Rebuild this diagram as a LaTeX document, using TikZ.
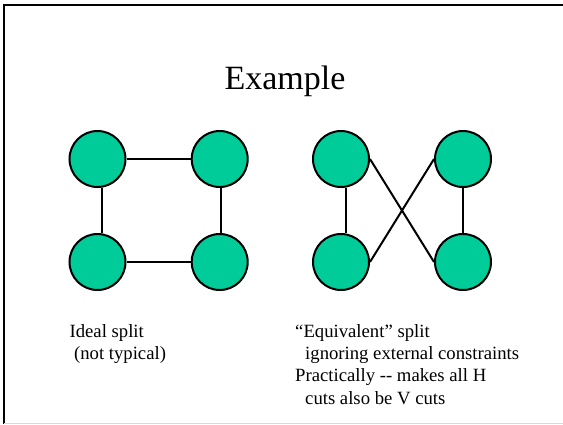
\documentclass[tikz,border=0pt]{standalone}
\usepackage{fontspec}
\setmainfont{Liberation Serif}
\definecolor{nodegreen}{RGB}{0,204,153}
\begin{document}
\begin{tikzpicture}[x=1pt,y=-1pt,
  vertex/.style={circle,draw=black,line width=2pt,fill=nodegreen,minimum size=56pt,inner sep=0pt},
  edge/.style={line width=2pt,draw=black},
  txt/.style={anchor=base west,inner sep=0pt,font=\fontsize{18.7}{22.4}\selectfont},
  title/.style={anchor=base,inner sep=0pt,font=\fontsize{34}{40}\selectfont}]
\useasboundingbox (0,0) rectangle (563,424);
\fill[white] (0,0) rectangle (563,424);
% frame
\draw[line width=2pt,black] (4,424) -- (4,5) -- (563,5);
\draw[line width=1pt,black!15] (4,423) -- (563,423);
% title
\node[title] (t) at (285,89) {Example};
% left group
\node[vertex] (a1) at (97.5,159) {};
\node[vertex] (a2) at (219.7,159) {};
\node[vertex] (a3) at (97.5,262) {};
\node[vertex] (a4) at (219.7,262) {};
\draw[edge] (a1.east) -- (a2.west);
\draw[edge] (a3.east) -- (a4.west);
\draw[edge] ([xshift=4.5pt]a1.south) -- ([xshift=4.5pt]a3.north);
\draw[edge] ([xshift=1.3pt]a2.south) -- ([xshift=1.3pt]a4.north);
% right group
\node[vertex] (b1) at (341,159) {};
\node[vertex] (b2) at (463,159) {};
\node[vertex] (b3) at (341,262) {};
\node[vertex] (b4) at (463,262) {};
\draw[edge] ([xshift=5pt]b1.south) -- ([xshift=5pt]b3.north);
\draw[edge] (b2.south) -- (b4.north);
\draw[edge] (b1.east) -- (b4.west);
\draw[edge] (b3.east) -- (b2.west);
% texts
\node[txt] (l1) at (69.4,337) {Ideal split};
\node[txt] (l2) at (69.4,359.5) {\hspace{4.5pt}(not typical)};
\node[txt] (r1) at (295,337) {“Equivalent” split};
\node[txt] (r2) at (295,359.5) {\hspace{10pt}ignoring external constraints};
\node[txt] (r3) at (295,381.5) {Practically -{}- makes all H};
\node[txt] (r4) at (295,404) {\hspace{10pt}cuts also be V cuts};
\end{tikzpicture}
\end{document}
